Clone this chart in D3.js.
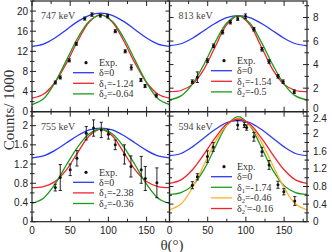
<!DOCTYPE html>
<html>
<head>
<meta charset="utf-8">
<script src="https://cdn.jsdelivr.net/npm/d3@7/dist/d3.min.js"></script>
<style>
  body { margin: 0; background: #fff; }
  svg { display: block; }
</style>
</head>
<body>
<div id="chart"></div>
<script>
// curve angles (deg)
var angles = [0, 15, 30, 45, 60, 75, 90, 105, 120, 135, 150, 165, 180];

// 747 keV
var theta747 = [30.5, 37, 48.8, 58, 69, 78.5, 89.4, 99, 109, 122, 130, 142.6, 148, 162.7];
var y747 = [5.8, 6.8, 10.2, 13.5, 18.5, 19.3, 19.1, 19.0, 16.0, 12.0, 8.8, 6.3, 5.1, 3.2];
var e747 = [0.3, 0.3, 0.3, 0.3, 0.3, 0.35, 0.3, 0.35, 0.3, 0.3, 0.5, 0.3, 0.3, 0.3];
var blue747 = [13.0, 13.44, 14.65, 16.3, 17.95, 19.16, 19.6, 19.16, 17.95, 16.3, 14.65, 13.44, 13.0];
var red747 = [2.7, 3.46, 5.8, 9.6, 14.1, 17.84, 19.3, 17.84, 14.1, 9.6, 5.8, 3.46, 2.7];
var green747 = [1.4, 2.57, 5.8, 10.2, 14.7, 18.0, 19.2, 18.0, 14.7, 10.2, 5.8, 2.57, 1.4];

// 813 keV
var theta813 = [29.9, 36.5, 49.7, 57.6, 69.5, 79.7, 89.3, 99.5, 110.5, 121, 130.3, 142, 148.8, 163.3];
var y813 = [2.55, 2.93, 4.34, 5.6, 6.75, 7.6, 7.9, 8.1, 7.0, 5.3, 4.26, 3.0, 2.55, 1.7];
var e813 = [0.15, 0.45, 0.15, 0.15, 0.15, 0.15, 0.15, 0.2, 0.15, 0.15, 0.15, 0.15, 0.15, 0.15];
var blue813 = [5.6, 5.77, 6.24, 6.88, 7.51, 7.98, 8.15, 7.98, 7.51, 6.88, 6.24, 5.77, 5.6];
var red813 = [1.7, 1.8, 2.32, 3.6, 5.54, 7.39, 8.15, 7.39, 5.54, 3.6, 2.32, 1.8, 1.7];
var green813 = [1.0, 1.34, 2.35, 4.0, 5.93, 7.53, 8.15, 7.53, 5.93, 4.0, 2.35, 1.34, 1.0];

// 755 keV
var theta755 = [30.5, 37, 50, 58.8, 71, 80.6, 90.7, 100, 109, 121, 129.5, 143, 148.3, 163.5];
var y755 = [0.71, 0.92, 1.08, 1.32, 1.84, 1.95, 1.91, 1.82, 1.6, 1.4, 1.15, 1.08, 0.9, 0.81];
var e755 = [0.07, 0.27, 0.12, 0.16, 0.14, 0.17, 0.16, 0.1, 0.1, 0.2, 0.22, 0.28, 0.25, 0.31];
var blue755 = [1.33, 1.37, 1.485, 1.64, 1.795, 1.91, 1.95, 1.91, 1.795, 1.64, 1.485, 1.37, 1.33];
var red755 = [0.71, 0.73, 0.835, 1.08, 1.445, 1.79, 1.93, 1.79, 1.445, 1.08, 0.835, 0.73, 0.71];
var green755 = [0.38, 0.49, 0.78, 1.18, 1.56, 1.83, 1.93, 1.83, 1.56, 1.18, 0.78, 0.49, 0.38];

// 594 keV
var theta594 = [29.9, 36.5, 49.7, 57.2, 89.3, 98, 101, 110.5, 121, 130.3, 142, 149.7, 164];
var y594 = [0.83, 1.02, 1.48, 1.7, 2.2, 2.2, 2.14, 1.93, 1.59, 1.29, 0.84, 0.68, 0.47];
var e594 = [0.08, 0.07, 0.13, 0.1, 0.1, 0.06, 0.06, 0.1, 0.1, 0.1, 0.08, 0.07, 0.1];
var blue594 = [1.5, 1.55, 1.70, 1.90, 2.10, 2.25, 2.30, 2.25, 2.10, 1.90, 1.70, 1.55, 1.5];
var green594 = [0.62, 0.66, 0.82, 1.18, 1.70, 2.19, 2.39, 2.19, 1.70, 1.18, 0.82, 0.66, 0.62];
var orange594 = [0.27, 0.40, 0.775, 1.29, 1.815, 2.2, 2.35, 2.2, 1.815, 1.29, 0.775, 0.40, 0.27];
var red594 = [0.87, 0.95, 1.18, 1.53, 1.91, 2.22, 2.33, 2.22, 1.91, 1.53, 1.18, 0.95, 0.87];

var BLUE = "#2b3bf2", RED = "#f5222d", GREEN = "#1f9a1f", ORANGE = "#ffb02e";

var panels = [
  { name: "747 keV", x: [32, 169.5], y: [1, 111.7], ymax: 22, major: 4, minor: 2, side: "left", bottomLabels: false,
    theta: theta747, val: y747, err: e747, lx: 86, ly: 62.7, zeroShift: 0, topShift: 0,
    curves: [[blue747, BLUE, [["δ", "", "=0"]]], [red747, RED, [["δ", "1", "=-1.24"]]], [green747, GREEN, [["δ", "2", "=-0.64"]]]] },
  { name: "813 keV", x: [169.5, 307], y: [1, 111.7], ymax: 9.4, major: 2, minor: 1, side: "right", bottomLabels: false,
    theta: theta813, val: y813, err: e813, lx: 224, ly: 60.7, zeroShift: -3.5, topShift: 0,
    curves: [[blue813, BLUE, [["δ", "", "=0"]]], [red813, RED, [["δ", "1", "=-1.54"]]], [green813, GREEN, [["δ", "2", "=-0.5"]]]] },
  { name: "755 keV", x: [32, 169.5], y: [111.7, 221.7], ymax: 2.29, major: 0.4, minor: 0.2, side: "left", bottomLabels: true,
    theta: theta755, val: y755, err: e755, lx: 86, ly: 172.3, zeroShift: 0, topShift: 0,
    curves: [[blue755, BLUE, [["δ", "", "=0"]]], [red755, RED, [["δ", "1", "=-2.38"]]], [green755, GREEN, [["δ", "2", "=-0.36"]]]] },
  { name: "594 keV", x: [169.5, 307], y: [111.7, 221.7], ymax: 2.5, major: 0.4, minor: 0.2, side: "right", bottomLabels: true,
    theta: theta594, val: y594, err: e594, lx: 224, ly: 166.7, zeroShift: 0, topShift: 2.5,
    curves: [[blue594, BLUE, [["δ", "", "=0"]]], [green594, GREEN, [["δ", "1", "=-1.74"]]], [orange594, ORANGE, [["δ", "2", "=-0.46"]]], [red594, RED, [["δ", "2", "'=-0.16"]]]] }
];

var svg = d3.select("#chart").append("svg").attr("width", 332).attr("height", 252);
var AX = "#222";

panels.forEach(function (p) {
  var x = d3.scaleLinear().domain([0, 180]).range(p.x);
  var y = d3.scaleLinear().domain([0, p.ymax]).range([p.y[1], p.y[0]]);
  var g = svg.append("g");

  // curves
  var line = d3.line().x(function (d, i) { return x(angles[i]); }).y(function (d) { return y(d); }).curve(d3.curveCatmullRom);
  p.curves.forEach(function (c) {
    g.append("path").attr("d", line(c[0])).attr("fill", "none").attr("stroke", c[1]).attr("stroke-width", 1.3);
  });

  // error bars + points
  p.theta.forEach(function (t, i) {
    var cx = x(t), top = y(p.val[i] + p.err[i]), bot = y(p.val[i] - p.err[i]);
    g.append("line").attr("x1", cx).attr("x2", cx).attr("y1", top).attr("y2", bot).attr("stroke", "#111").attr("stroke-width", 0.9);
    [top, bot].forEach(function (yy) {
      g.append("line").attr("x1", cx - 1.6).attr("x2", cx + 1.6).attr("y1", yy).attr("y2", yy).attr("stroke", "#111").attr("stroke-width", 0.9);
    });
    g.append("circle").attr("cx", cx).attr("cy", y(p.val[i])).attr("r", 1.5).attr("fill", "#111");
  });

  // frame
  g.append("rect").attr("x", p.x[0]).attr("y", p.y[0]).attr("width", p.x[1] - p.x[0]).attr("height", p.y[1] - p.y[0])
    .attr("fill", "none").attr("stroke", AX).attr("stroke-width", 1.2);

  // x ticks (bottom and top, inward)
  d3.range(0, 181, 25).forEach(function (t) {
    var big = t % 50 === 0 ? 5 : 3;
    g.append("line").attr("x1", x(t)).attr("x2", x(t)).attr("y1", p.y[1]).attr("y2", p.y[1] - big).attr("stroke", AX);
    g.append("line").attr("x1", x(t)).attr("x2", x(t)).attr("y1", p.y[0]).attr("y2", p.y[0] + big).attr("stroke", AX);
  });
  if (p.bottomLabels) {
    x.ticks(4).filter(function (t) { return t % 50 === 0 && t < 180; }).forEach(function (t) {
      g.append("text").attr("x", x(t)).attr("y", 234).attr("text-anchor", "middle")
        .attr("font-family", "Liberation Sans, Arial, sans-serif").attr("font-size", 10).attr("fill", AX).text(t);
    });
  }

  // y ticks (both sides)
  var minorT = d3.range(0, p.ymax + 1e-9, p.minor);
  var majors = minorT.filter(function (v) { return Math.abs(v / p.major - Math.round(v / p.major)) < 1e-6; });
  var topMajor = majors[majors.length - 1];
  minorT.forEach(function (v) {
    var isMajor = majors.indexOf(v) >= 0;
    var len = isMajor ? 4 : 2.5;
    var yy = y(v);
    g.append("line").attr("x1", p.x[0] - (p.side === "left" ? 2 : 0)).attr("x2", p.x[0] + len).attr("y1", yy).attr("y2", yy).attr("stroke", AX);
    g.append("line").attr("x1", p.x[1] + (p.side === "right" ? 2 : 0)).attr("x2", p.x[1] - len).attr("y1", yy).attr("y2", yy).attr("stroke", AX);
    if (isMajor) {
      var lab = d3.format("~g")(+v.toFixed(2));
      var shift = v === 0 ? p.zeroShift : (v === topMajor ? p.topShift : 0);
      g.append("text").attr("x", p.side === "left" ? p.x[0] - 4 : p.x[1] + 6).attr("y", yy + 3.5 + shift)
        .attr("text-anchor", p.side === "left" ? "end" : "start")
        .attr("font-family", "Liberation Sans, Arial, sans-serif").attr("font-size", 10).attr("fill", AX).text(lab);
    }
  });

  // panel label
  g.append("text").attr("x", p.x[0] + 9).attr("y", p.y[0] + 18).attr("font-family", "Liberation Serif, serif")
    .attr("font-size", 10).attr("fill", "#444").text(p.name);

  // legend
  var serif = "Liberation Serif, Times New Roman, serif";
  g.append("circle").attr("cx", p.lx).attr("cy", p.ly).attr("r", 1.6).attr("fill", "#111");
  g.append("text").attr("x", p.lx + 13).attr("y", p.ly + 3.5).attr("font-family", serif).attr("font-size", 10).attr("fill", "#333").text("Exp.");
  p.curves.forEach(function (c, i) {
    var ly = p.ly + 10 + i * 10.6;
    g.append("line").attr("x1", p.lx - 13).attr("x2", p.lx + 8).attr("y1", ly).attr("y2", ly).attr("stroke", c[1]).attr("stroke-width", 1.3);
    var t = g.append("text").attr("x", p.lx + 13).attr("y", ly + 3.5).attr("font-family", serif).attr("font-size", 10).attr("fill", "#333");
    var parts = c[2][0];
    t.append("tspan").text(parts[0]);
    if (parts[1]) t.append("tspan").attr("font-size", 6.5).attr("dy", 2).text(parts[1]);
    t.append("tspan").attr("dy", parts[1] ? -2 : 0).text(parts[2]);
  });
});

// axis titles
svg.append("text").attr("transform", "translate(14,110) rotate(-90)").attr("text-anchor", "middle")
  .attr("font-family", "Liberation Serif, serif").attr("font-size", 15).attr("fill", "#333").text("Counts/ 1000");
svg.append("text").attr("x", 172).attr("y", 250).attr("text-anchor", "middle")
  .attr("font-family", "Liberation Serif, serif").attr("font-size", 15).attr("fill", "#333").text("θ(°)");
</script>
</body>
</html>
